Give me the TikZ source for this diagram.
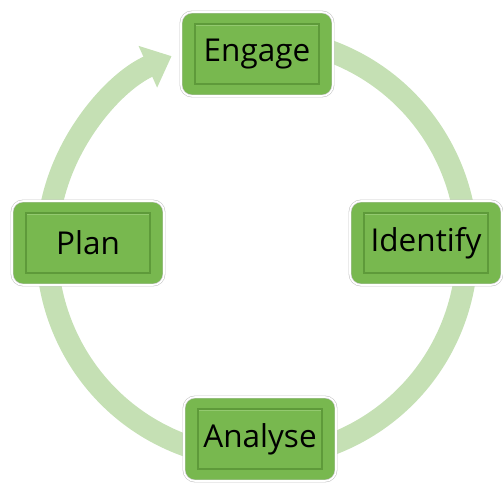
\documentclass[tikz,border=0pt]{standalone}
\usepackage{fontspec}
\setmainfont{Open Sans}
\usetikzlibrary{arrows.meta}
\definecolor{ringgreen}{HTML}{C5E0B4}
\definecolor{boxgreen}{HTML}{78B84F}
\definecolor{bevel}{HTML}{5E9A3A}
\definecolor{bevellight}{HTML}{93C96F}
\tikzset{
  stepbox/.style={rounded corners=11pt, minimum width=152pt, minimum height=84pt,
    fill=boxgreen, draw=black!22, double=white, double distance=1.6pt, line width=0.6pt,
    font=\fontsize{31.5}{36}\selectfont, text=black, inner sep=0pt,
    path picture={
      \draw[sharp corners, bevellight, line width=1.2pt]
        ([shift={(14pt,-13.5pt)}]path picture bounding box.north west) -- ([shift={(-14pt,-13.5pt)}]path picture bounding box.north east);
      \draw[sharp corners, bevel, line width=1.4pt]
        ([shift={(14pt,12pt)}]path picture bounding box.south west) rectangle ([shift={(-14pt,-12pt)}]path picture bounding box.north east);
    }},
  ring/.style={ringgreen, line width=22pt, -{Triangle[width=44pt,length=26pt]}}
}
\begin{document}
\begin{tikzpicture}[x=1pt,y=1pt]
  \useasboundingbox (0,0) rectangle (503,482);
  \coordinate (c) at (257,234);
  \draw[ring] ([shift={(70:210)}]c) arc[start angle=70, end angle=-246, radius=210];
  \node[stepbox] (engage) at (257,428) {Engage};
  \node[stepbox] (identify) at (426,239) {Identify};
  \node[stepbox] (analyse) at (260,43) {Analyse};
  \node[stepbox] (plan) at (88,239) {Plan};
\end{tikzpicture}
\end{document}
